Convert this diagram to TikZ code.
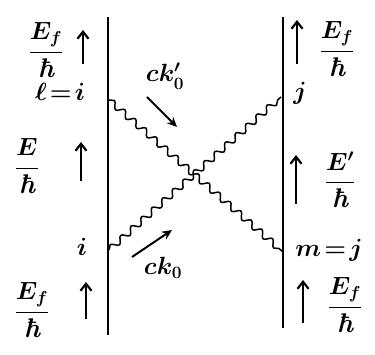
\documentclass[tikz,border=0pt]{standalone}
\usepackage{amsmath}
\usepackage{fontspec}
\usetikzlibrary{arrows.meta,decorations.pathmorphing}
\newcommand\hb{\text{\bfseries\itshape ħ}}
\begin{document}
\begin{tikzpicture}[x=1pt,y=-1pt,
  wall/.style={line width=2.6pt},
  photon/.style={line width=1.5pt,line join=round,decorate,decoration={snake,amplitude=3.2pt,segment length=14pt}},
  uparr/.style={line width=2.4pt,-{Straight Barb[length=7pt,width=11pt,line width=2.2pt]}},
  kar/.style={line width=2pt,-{Stealth[length=10pt,width=9pt]}},
  lbl/.style={inner sep=0pt,font=\fontsize{27}{30}\selectfont\boldmath}]
\useasboundingbox (0,0) rectangle (375,355);
% walls
\coordinate (Lt) at (108,17);
\coordinate (Lb) at (108,335);
\coordinate (Rt) at (283,17);
\coordinate (Rb) at (283,328);
\draw[wall] (Lt) -- (Lb);
\draw[wall] (Rt) -- (Rb);
% photon ends
\coordinate (l) at (109,100);
\coordinate (m) at (283,252);
\coordinate (i) at (109,250);
\coordinate (j) at (281,97);
\draw[photon] (l) -- (m);
\draw[photon] (i) -- (j);
% left labels
\node[lbl] (EfL1) at (46,50) {$\dfrac{E_f}{\hb}$};
\coordinate (aL1b) at (83,64); \coordinate (aL1t) at (83,30);
\draw[uparr] (aL1b) -- (aL1t);
\node[lbl] (li) at (60,92) {$\ell\mkern2mu{=}\mkern2mu i$};
\node[lbl] (EL) at (27,166) {$\dfrac{E}{\hb}$};
\coordinate (aL2b) at (81,181); \coordinate (aL2t) at (81,142);
\draw[uparr] (aL2b) -- (aL2t);
\node[lbl] (iL) at (82,247) {$i$};
\node[lbl] (EfL2) at (32,310) {$\dfrac{E_f}{\hb}$};
\coordinate (aL3b) at (86,319); \coordinate (aL3t) at (86,282);
\draw[uparr] (aL3b) -- (aL3t);
% right labels
\coordinate (aR1b) at (297,64); \coordinate (aR1t) at (297,20);
\draw[uparr] (aR1b) -- (aR1t);
\node[lbl] (EfR1) at (337,49) {$\dfrac{E_f}{\hb}$};
\node[lbl] (jR) at (300,93) {$j$};
\coordinate (aR2b) at (296,204); \coordinate (aR2t) at (296,155);
\draw[uparr] (aR2b) -- (aR2t);
\node[lbl] (EpR) at (340,180) {$\dfrac{E'}{\hb}$};
\node[lbl] (mj) at (329,250) {$m\mkern2mu{=}\mkern2mu j$};
\coordinate (aR3b) at (303,323); \coordinate (aR3t) at (303,280);
\draw[uparr] (aR3b) -- (aR3t);
\node[lbl] (EfR2) at (345,305) {$\dfrac{E_f}{\hb}$};
% photon labels
\node[lbl] (ck1) at (165,76) {$ck'_0$};
\coordinate (k1s) at (147,97); \coordinate (k1e) at (177,127);
\draw[kar] (k1s) -- (k1e);
\node[lbl] (ck0) at (163,268) {$ck_0$};
\coordinate (k0s) at (132,257); \coordinate (k0e) at (172,230);
\draw[kar] (k0s) -- (k0e);
\end{tikzpicture}
\end{document}
